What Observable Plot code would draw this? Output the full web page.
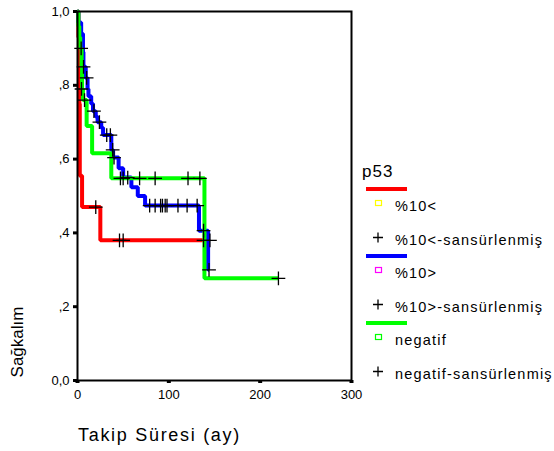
<!DOCTYPE html>
<html><head><meta charset="utf-8">
<script src="https://cdn.jsdelivr.net/npm/d3@7"></script>
<script src="https://cdn.jsdelivr.net/npm/@observablehq/plot@0.6"></script>
<style>body{margin:0;background:#fff;overflow:hidden}</style>
</head><body><div id="chart"></div>
<script>
// ---- data ----
const xTicks = [0, 100, 200, 300];
const yTicks = [0, 0.2, 0.4, 0.6, 0.8, 1];
const yTickLabels = ["0,0", ",2", ",4", ",6", ",8", "1,0"];

// survival step points [time, survival]
const redSteps = [[0,1],[1,0.93],[2,0.75],[2.5,0.555],[5,0.47],[25,0.38],[145,0.38]];
const redCensor = [[20,0.47],[46,0.38],[50,0.38],[138,0.38],[145,0.38]];

const blueSteps = [[0,1],[1,0.97],[4,0.94],[6,0.89],[6.5,0.85],[9,0.82],[11,0.79],[12,0.77],[15,0.75],[17,0.73],[20,0.715],[22,0.70],[26,0.685],[28,0.665],[37,0.625],[39,0.604],[45,0.575],[50,0.55],[59,0.524],[66,0.50],[74,0.474],[133,0.406],[143,0.30],[144,0.30]];
const blueCensor = [[6.6,0.85],[10,0.82],[18,0.73],[24,0.70],[32,0.665],[36,0.665],[38.5,0.625],[40,0.604],[55,0.55],[79,0.474],[85,0.474],[91,0.474],[93,0.474],[96,0.474],[98,0.474],[110,0.474],[120,0.474],[131,0.474],[138,0.406],[144,0.30]];

const greenSteps = [[0,1],[1,0.96],[2,0.93],[3,0.90],[4.5,0.85],[5,0.79],[6,0.76],[10,0.69],[16,0.616],[37,0.548],[139,0.277],[220,0.277]];
const greenCensor = [[4,0.90],[4.4,0.79],[7.7,0.76],[47,0.548],[50,0.548],[68,0.548],[85,0.548],[121,0.548],[134,0.548],[220,0.277]];

const legendTitle = "p53";
const legendLabels = ["%10<", "%10<-sansürlenmiş", "%10>", "%10>-sansürlenmiş", "negatif", "negatif-sansürlenmiş"];
const seriesColors = ["#ff0000", "#0000ff", "#00ff00"];
const squareColors = ["#ffff00", "#ff00ff", "#00ff00"];
const xLabel = "Takip Süresi (ay)";
const yLabel = "Sağkalım";

const toObj = arr => arr.map(([t, s]) => ({t, s}));
const font = "'Liberation Sans', Arial, sans-serif";

const W = 554, H = 451, ml = 77, mr = 203, mt = 11, mb = 71;

const plot = Plot.plot({
  width: W, height: H,
  marginLeft: ml, marginRight: mr, marginTop: mt, marginBottom: mb,
  style: {fontFamily: font, fontSize: "13px", color: "#000", background: "#fff"},
  x: {domain: [0, 300], ticks: xTicks},
  y: {domain: [0, 1], ticks: yTicks},
  marks: [
    Plot.line(toObj(redSteps), {x: "t", y: "s", curve: "step-after", stroke: seriesColors[0], strokeWidth: 4, strokeLinejoin: "miter", strokeLinecap: "butt"}),
    Plot.line(toObj(blueSteps), {x: "t", y: "s", curve: "step-after", stroke: seriesColors[1], strokeWidth: 4, strokeLinejoin: "miter", strokeLinecap: "butt"}),
    Plot.line(toObj(greenSteps), {x: "t", y: "s", curve: "step-after", stroke: seriesColors[2], strokeWidth: 4, strokeLinejoin: "miter", strokeLinecap: "butt"}),
    Plot.dot(toObj(redCensor), {x: "t", y: "s", symbol: "plus", r: 4.5, stroke: "#000", strokeWidth: 1.3}),
    Plot.dot(toObj(blueCensor), {x: "t", y: "s", symbol: "plus", r: 4.5, stroke: "#000", strokeWidth: 1.3}),
    Plot.dot(toObj(greenCensor), {x: "t", y: "s", symbol: "plus", r: 4.5, stroke: "#000", strokeWidth: 1.3}),
    Plot.frame({stroke: "#000", strokeWidth: 2}),
    Plot.axisY({ticks: yTicks, tickFormat: d => yTickLabels[yTicks.indexOf(d)], tickSize: 4, tickPadding: 4, strokeWidth: 3, label: null, style: {letterSpacing: "1.5px"}}),
    Plot.axisX({ticks: xTicks, tickSize: 3, tickPadding: 6, strokeWidth: 4, label: null, style: {letterSpacing: "1.5px"}})
  ]
});
document.getElementById("chart").appendChild(plot);

const svg = d3.select(plot);
// axis titles
svg.append("text").attr("x", 78).attr("y", 441).attr("text-anchor", "start").attr("font-family", font).attr("font-size", 18)
  .attr("letter-spacing", "1.7px").attr("fill", "#000").text(xLabel);
svg.append("text").attr("transform", "translate(23,342) rotate(-90)").attr("text-anchor", "middle")
  .attr("font-family", font).attr("font-size", 17).attr("fill", "#000").text(yLabel);

// legend
const lg = svg.append("g").attr("font-family", font).attr("fill", "#000").attr("text-anchor", "start");
lg.append("text").attr("x", 362).attr("y", 177).attr("font-size", 17).attr("letter-spacing", "1px").text(legendTitle);
const rowStart = 189, groupStep = 67, rowStep = 33.5;
seriesColors.forEach((c, i) => {
  const y0 = rowStart + i * groupStep;
  lg.append("line").attr("x1", 366).attr("x2", 407).attr("y1", y0).attr("y2", y0).attr("stroke", c).attr("stroke-width", 4);
  lg.append("rect").attr("x", 375.5).attr("y", y0 + 11.5).attr("width", 6).attr("height", 5)
    .attr("fill", "#fff").attr("stroke", squareColors[i]).attr("stroke-width", 1.2);
  lg.append("text").attr("x", 395).attr("y", y0 + 22).attr("font-size", 14.5).attr("letter-spacing", "1.2px").text(legendLabels[i * 2]);
  lg.append("path").attr("d", `M373,${y0 + 48.5}h10M378,${y0 + 43.5}v10`).attr("stroke", "#000").attr("stroke-width", 1.3);
  lg.append("text").attr("x", 395).attr("y", y0 + 56).attr("font-size", 14.5).attr("letter-spacing", "1.2px").text(legendLabels[i * 2 + 1]);
});
</script></body></html>
